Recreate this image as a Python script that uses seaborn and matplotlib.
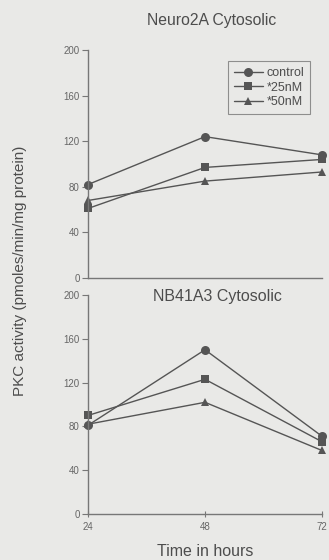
import matplotlib
matplotlib.use("Agg")
import matplotlib.pyplot as plt
import seaborn as sns
import pandas as pd
from matplotlib.lines import Line2D

hours = [24, 48, 72]
series_names = ["control", "*25nM", "*50nM"]
neuro2a_control = [82, 124, 108]
neuro2a_25nM = [61, 97, 104]
neuro2a_50nM = [68, 85, 93]
nb41a3_control = [81, 150, 71]
nb41a3_25nM = [90, 123, 66]
nb41a3_50nM = [82, 102, 58]
y_ticks = [0, 40, 80, 120, 160, 200]
x_ticks = [24, 48, 72]

sns.set_style("white")
plt.rcParams['font.family'] = ['Liberation Sans', 'DejaVu Sans']

bg = '#e9e9e7'
ink = '#555555'
txt = '#4d4d4d'
markers = ['o', 's', '^']
msizes = [6.5, 5.5, 6]

fig = plt.figure(figsize=(3.29, 5.6), dpi=100, facecolor=bg)
ax1 = fig.add_axes([88/329, 1-278/560, (322-88)/329, (278-50)/560])
ax2 = fig.add_axes([88/329, 1-514/560, (322-88)/329, (514-295)/560])

def make_df(vals):
    rows = []
    for name, v in zip(series_names, vals):
        for h, y in zip(hours, v):
            rows.append({"hours": h, "value": y, "treatment": name})
    return pd.DataFrame(rows)

panels = [
    (ax1, [neuro2a_control, neuro2a_25nM, neuro2a_50nM]),
    (ax2, [nb41a3_control, nb41a3_25nM, nb41a3_50nM]),
]

for ax, vals in panels:
    ax.set_facecolor(bg)
    df = make_df(vals)
    for name, m, ms in zip(series_names, markers, msizes):
        sub = df[df.treatment == name]
        sns.lineplot(data=sub, x="hours", y="value", ax=ax, color=ink,
                     marker=m, markersize=ms, markeredgewidth=0, lw=1.0,
                     label=name, legend=False, clip_on=False)
    ax.set_xlim(24, 72)
    ax.set_ylim(0, 200)
    ax.set_yticks(y_ticks)
    ax.set_xlabel("")
    ax.set_ylabel("")
    for s in ["top", "right"]:
        ax.spines[s].set_visible(False)
    for s in ["left", "bottom"]:
        ax.spines[s].set_color('#777777')
        ax.spines[s].set_linewidth(1.0)
    ax.tick_params(axis='y', direction='out', length=4, width=0.8, colors='#777777',
                   labelsize=7, labelcolor='#666666', left=True, pad=2)

ax1.set_xticks([])
ax2.set_xticks(x_ticks)
ax2.tick_params(axis='x', direction='inout', length=5, width=0.8, colors='#777777',
                labelsize=7, labelcolor='#666666', bottom=True, pad=3)

handles = [Line2D([0], [0], color=ink, lw=1.0, marker=m, markersize=ms, markeredgewidth=0)
           for m, ms in zip(markers, msizes)]
leg = ax1.legend(handles, series_names, loc='upper right', bbox_to_anchor=(0.975, 0.978),
                 fontsize=9, frameon=True, fancybox=False, handlelength=2.3,
                 handletextpad=0.3, labelspacing=0.22, borderpad=0.45, labelcolor=txt)
leg.get_frame().set_edgecolor('#777777')
leg.get_frame().set_facecolor(bg)
leg.get_frame().set_linewidth(0.8)

fig.text(212/329, 1-21/560, "Neuro2A Cytosolic", ha='center', va='center',
         fontsize=11.3, color=txt)
fig.text(217/329, 1-296/560, "NB41A3 Cytosolic", ha='center', va='center',
         fontsize=11.5, color=txt)
fig.text(20/329, 1-271/560, "PKC activity (pmoles/min/mg protein)", rotation=90,
         ha='center', va='center', fontsize=11, color=txt)
fig.text(205/329, 1-551/560, "Time in hours", ha='center', va='center',
         fontsize=11.5, color=txt)

fig.savefig("out.png", dpi=100, facecolor=bg)
